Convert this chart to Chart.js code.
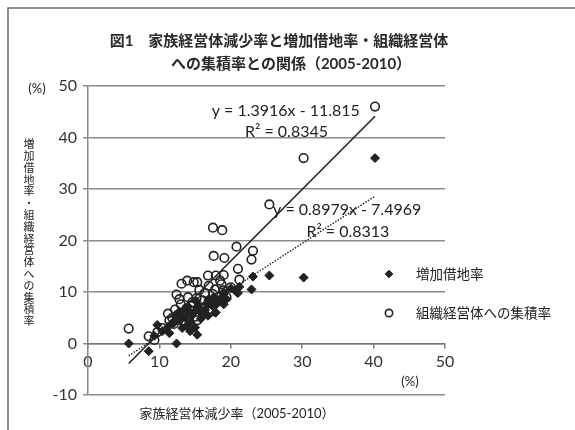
<!DOCTYPE html>
<html>
<head>
<meta charset="utf-8">
<script src="https://cdn.jsdelivr.net/npm/chart.js@4/dist/chart.umd.min.js"></script>
<style>
  html, body { margin: 0; padding: 0; background: #fff; }
  #wrap { width: 575px; height: 430px; }
</style>
</head>
<body>
<div id="wrap"><canvas id="c" width="575" height="430"></canvas></div>
<script>
// 家族経営体減少率 (x, %) per municipality
const decreaseRate = [
  40.2, 30.2, 25.4, 23.1, 22.9, 20.8, 21.0, 21.2, 20.0, 17.5,
  18.8, 17.6, 19.1, 16.8, 17.9, 19.0, 18.5, 13.9, 13.1, 14.8,
  15.3, 12.4, 11.2, 8.5, 5.7, 9.3, 9.7, 10.4, 15.3, 14.3,
  11.4, 12.0, 13.2, 14.0, 15.2, 16.4, 17.5, 18.9, 13.0, 14.4,
  15.8, 16.8, 12.2, 13.6, 15.0, 16.2, 17.2, 18.0, 12.8, 15.6,
  16.9, 19.4, 17.8, 18.7, 14.6, 11.8, 13.8, 16.0
];
// 増加借地率 (%)
const leaseIncrease = [
  36.0, 12.8, 13.2, 13.0, 10.5, 10.0, 9.8, 11.0, 10.7, 8.0,
  8.3, 9.0, 9.8, 7.8, 6.0, 7.6, 8.6, 6.5, 5.5, 6.0,
  7.0, 0.0, 3.2, -1.5, 0.0, 1.5, 3.6, 2.4, 1.7, 2.4,
  2.0, 4.0, 3.0, 7.2, 8.2, 6.5, 7.2, 9.8, 4.6, 4.2,
  4.8, 5.4, 5.5, 5.0, 3.1, 6.0, 8.0, 7.6, 6.2, 7.0,
  8.6, 8.6, 6.0, 8.3, 5.6, 4.0, 3.4, 6.0
];
// 組織経営体への集積率 (%)
const orgConcentration = [
  46.0, 36.0, 27.0, 18.0, 16.3, 18.8, 14.5, 12.4, 10.9, 22.5,
  22.0, 17.0, 16.6, 13.2, 13.2, 13.3, 12.2, 12.2, 11.6, 11.9,
  11.9, 9.5, 5.8, 1.4, 2.9, 0.7, 2.2, 3.0, 4.5, 6.4,
  4.5, 3.8, 4.4, 9.0, 8.8, 9.8, 9.6, 10.3, 7.6, 7.3,
  7.0, 7.8, 6.6, 5.8, 5.2, 5.8, 6.2, 8.4, 8.6, 10.4,
  11.2, 9.0, 10.5, 11.5, 8.0, 5.0, 6.8, 8.4
];
// linear fits: [slope, intercept, R²]
const orgFit = [1.3916, -11.815, 0.8345];
const leaseFit = [0.8979, -7.4969, 0.8313];

const seriesLabels = ['増加借地率', '組織経営体への集積率'];
const xTicks = [0, 10, 20, 30, 40, 50];
const yTicks = [-10, 0, 10, 20, 30, 40, 50];

const titleLines = ['図1\u3000家族経営体減少率と増加借地率・組織経営体', 'への集積率との関係（2005-2010）'];
const yTitle = '増加借地率・組織経営体への集積率';
const xTitle = '家族経営体減少率（2005-2010）';

const INK = '#222';
const GRID = '#8c8c8c';
const FONT_NUM = "Lato, 'Noto Sans CJK JP', sans-serif";
const FONT_JP = "'Noto Sans CJK JP', sans-serif";

const xMin = Math.min(...decreaseRate);
const xMax = Math.max(...decreaseRate);
const fitLine = f => [xMin, xMax].map(x => ({ x, y: f[0] * x + f[1] }));
const pts = ys => decreaseRate.map((x, i) => ({ x, y: ys[i] }));
const fmtFit = f => 'y = ' + f[0] + 'x - ' + Math.abs(f[1]);

const decor = {
  id: 'decor',
  beforeDraw(chart) {
    const ctx = chart.ctx;
    ctx.save();
    ctx.fillStyle = '#fff';
    ctx.fillRect(0, 0, chart.width, chart.height);
    // figure frame
    ctx.strokeStyle = '#6a6a6a';
    ctx.lineWidth = 1.5;
    ctx.beginPath();
    ctx.moveTo(8, chart.height);
    ctx.lineTo(8, 8);
    ctx.lineTo(chart.width, 8);
    ctx.stroke();
    ctx.restore();
  },
  afterDraw(chart) {
    const ctx = chart.ctx;
    const xs = chart.scales.x, ys = chart.scales.y;
    ctx.save();
    ctx.fillStyle = INK;
    ctx.textBaseline = 'middle';
    ctx.textAlign = 'center';

    // title
    ctx.font = "bold 15px " + FONT_NUM;
    ctx.fillStyle = '#2a2a2a';
    ctx.fillText(titleLines[0], 279, 41);
    ctx.fillText(titleLines[1], 291, 64);
    ctx.fillStyle = INK;

    // vertical y-axis title, upright characters
    ctx.font = "11px " + FONT_JP;
    [...yTitle].forEach((ch, i) => ctx.fillText(ch, 29, 144 + i * 11.8));

    // unit labels
    ctx.font = "13px " + FONT_NUM;
    ctx.fillText('(%)', 37, 89);
    ctx.fillText('(%)', 410, 382);

    // x-axis title
    ctx.font = "13px " + FONT_NUM;
    ctx.fillText(xTitle, 237, 414);

    // fit equations
    ctx.font = "16px " + FONT_NUM;
    ctx.fillText(fmtFit(orgFit), xs.getPixelForValue(27.7), ys.getPixelForValue(45.2));
    ctx.fillText('R² = ' + orgFit[2], xs.getPixelForValue(27.8), ys.getPixelForValue(41.1));
    ctx.fillText(fmtFit(leaseFit), xs.getPixelForValue(36.3), ys.getPixelForValue(25.9));
    ctx.fillText('R² = ' + leaseFit[2], xs.getPixelForValue(36.4), ys.getPixelForValue(21.7));

    // legend
    ctx.textAlign = 'left';
    ctx.font = "13.5px " + FONT_JP;
    const items = [
      { ds: chart.data.datasets[0], y: 274 },
      { ds: chart.data.datasets[1], y: 313 }
    ];
    items.forEach(it => {
      ctx.fillStyle = it.ds.backgroundColor;
      ctx.strokeStyle = it.ds.borderColor;
      ctx.lineWidth = it.ds.borderWidth;
      Chart.helpers.drawPoint(ctx, {
        pointStyle: it.ds.pointStyle,
        radius: it.ds.pointRadius * 0.85,
        borderWidth: it.ds.borderWidth,
        rotation: 0
      }, 389, it.y);
      ctx.fillStyle = INK;
      ctx.fillText(it.ds.label, 416, it.y);
    });
    ctx.restore();
  }
};

const chart = new Chart(document.getElementById('c'), {
  type: 'scatter',
  data: {
    datasets: [
      {
        label: seriesLabels[0],
        data: pts(leaseIncrease),
        pointStyle: 'rectRot',
        pointRadius: 4.5,
        pointHoverRadius: 4.5,
        backgroundColor: INK,
        borderColor: INK,
        borderWidth: 1,
        order: 3
      },
      {
        label: seriesLabels[1],
        data: pts(orgConcentration),
        pointStyle: 'circle',
        pointRadius: 4.3,
        pointHoverRadius: 4.3,
        backgroundColor: 'rgba(0,0,0,0)',
        borderColor: INK,
        borderWidth: 1.6,
        order: 2
      },
      {
        type: 'line',
        label: 'fit-org',
        data: fitLine(orgFit),
        borderColor: INK,
        borderWidth: 1.6,
        pointRadius: 0,
        fill: false,
        order: 1
      },
      {
        type: 'line',
        label: 'fit-lease',
        data: fitLine(leaseFit),
        borderColor: INK,
        borderWidth: 1.4,
        borderDash: [1.5, 1.5],
        pointRadius: 0,
        fill: false,
        order: 1
      }
    ]
  },
  options: {
    responsive: false,
    animation: false,
    events: [],
    layout: { padding: { left: 0, right: 130, top: 86, bottom: 35 } },
    plugins: {
      legend: { display: false },
      title: { display: false },
      tooltip: { enabled: false }
    },
    scales: {
      x: {
        type: 'linear',
        position: { y: 0 },
        min: 0,
        max: 50,
        afterBuildTicks: s => { s.ticks = xTicks.map(v => ({ value: v })); },
        ticks: { color: '#333', font: { family: FONT_NUM, size: 16 }, padding: 5 },
        grid: { drawOnChartArea: false, drawTicks: true, tickLength: 4, color: '#777', lineWidth: 1.5 },
        border: { color: '#777', width: 1.6 }
      },
      y: {
        type: 'linear',
        position: 'left',
        min: -10,
        max: 50,
        afterBuildTicks: s => { s.ticks = yTicks.map(v => ({ value: v })); },
        afterFit: s => { s.width = 88; },
        ticks: { color: '#333', font: { family: FONT_NUM, size: 16 }, padding: 6 },
        grid: { color: GRID, lineWidth: 1.5, tickLength: 5 },
        border: { color: '#888', width: 1.5 }
      }
    }
  },
  plugins: [decor]
});
</script>
</body>
</html>
